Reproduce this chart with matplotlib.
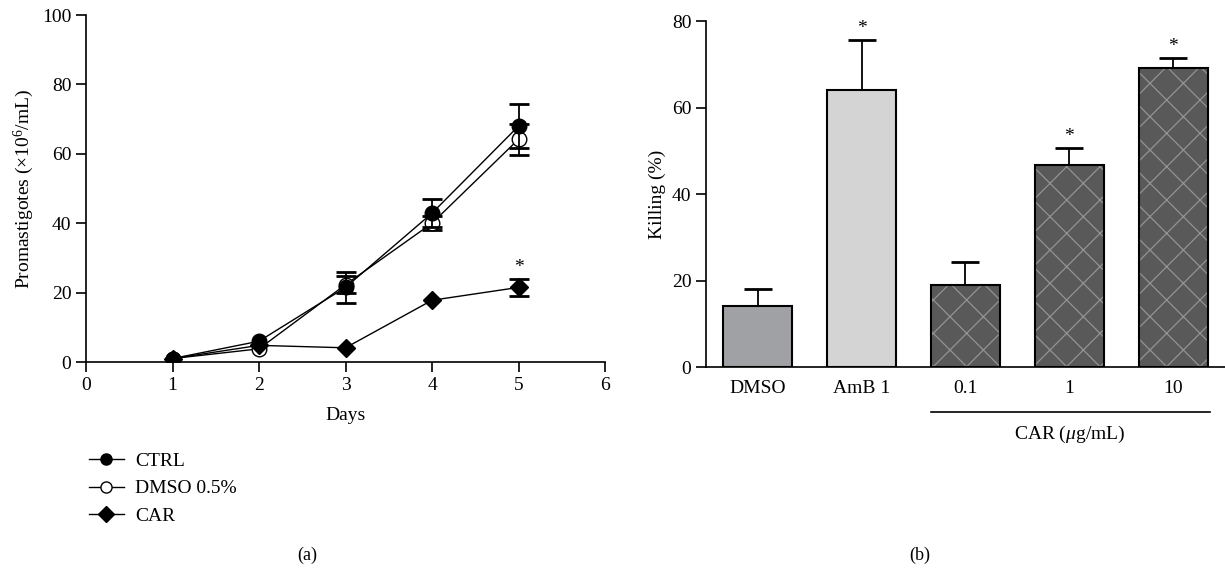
import matplotlib
matplotlib.use("Agg")
import matplotlib.pyplot as plt
from matplotlib.lines import Line2D
import numpy as np

plt.rcParams['font.family'] = ['Liberation Serif', 'DejaVu Serif']
plt.rcParams['mathtext.fontset'] = 'custom'
plt.rcParams['mathtext.rm'] = 'Liberation Serif'
plt.rcParams['mathtext.it'] = 'Liberation Serif:italic'
plt.rcParams['hatch.linewidth'] = 0.9

# (a) growth curves
days = [1, 2, 3, 4, 5]
ctrl = [1.0, 6.0, 21.5, 42.9, 68.0]
ctrl_err = [0, 0, 4.5, 4.0, 6.4]
dmso = [1.0, 3.8, 22.3, 40.0, 64.2]
dmso_err = [0, 0, 2.5, 2.0, 4.4]
car = [1.0, 4.8, 4.1, 17.8, 21.5]
car_err = [0, 0, 0, 0, 2.4]

# (b) killing
groups = ['DMSO', 'AmB 1', '0.1', '1', '10']
killing = [14.1, 64.0, 18.9, 46.7, 69.2]
killing_err = [3.9, 11.7, 5.4, 3.9, 2.2]
starred = [False, True, False, True, True]
bar_colors = ['#a0a1a4', '#d4d4d4', '#595959', '#595959', '#595959']
hatched = [False, False, True, True, True]

fig = plt.figure(figsize=(12.25, 5.74), dpi=100)
fs = 14


def series(ax, y, err, marker, ms, mfc, z):
    ax.plot(days, y, color='black', marker=marker, ms=ms, mfc=mfc,
            mec='black', lw=1.0, zorder=z)
    idx = [i for i in range(len(days)) if err[i] > 0]
    ax.errorbar([days[i] for i in idx], [y[i] for i in idx],
                yerr=[err[i] for i in idx], fmt='none', ecolor='black',
                elinewidth=1.3, capsize=7, capthick=2, zorder=z - 0.5)


# ---- panel (a)
ax1 = fig.add_axes([0.0702, 0.3693, 0.4237, 0.6045])
series(ax1, dmso, dmso_err, 'o', 10.5, 'white', 3)
series(ax1, ctrl, ctrl_err, 'o', 10.5, 'black', 4)
series(ax1, car, car_err, 'D', 9.5, 'black', 5)
ax1.annotate('*', (days[-1], car[-1] + car_err[-1]), xytext=(0, 2),
             textcoords='offset points', ha='center', va='bottom', fontsize=fs)
ax1.set_xlim(0, 6)
ax1.set_ylim(0, 100)
ax1.set_xticks(range(0, 7))
ax1.set_yticks(range(0, 101, 20))
ax1.spines[['top', 'right']].set_visible(False)
ax1.tick_params(direction='out', length=7, width=1.2, labelsize=fs)
for s in ['left', 'bottom']:
    ax1.spines[s].set_linewidth(1.2)
ax1.set_xlabel('Days', fontsize=fs, labelpad=10)
ax1.set_ylabel('Promastigotes (×10$^{6}$/mL)', fontsize=fs)

handles = [
    Line2D([], [], color='black', marker='o', ms=8, mfc='black', lw=1.0),
    Line2D([], [], color='black', marker='o', ms=8, mfc='white', lw=1.0),
    Line2D([], [], color='black', marker='D', ms=8, mfc='black', lw=1.0),
]
fig.legend(handles, ['CTRL', 'DMSO 0.5%', 'CAR'], loc='upper left',
           bbox_to_anchor=(0.066, 0.226), frameon=False, fontsize=fs,
           handlelength=1.8, labelspacing=0.52, handletextpad=0.6,
           borderaxespad=0)

# ---- panel (b)
ax2 = fig.add_axes([0.5763, 0.3606, 0.4237, 0.6028])
x = np.arange(len(groups))
for i in range(len(groups)):
    if hatched[i]:
        ax2.bar(x[i], killing[i], width=0.665, color=bar_colors[i],
                edgecolor='#939393', hatch='x', lw=0, zorder=2)
        ax2.bar(x[i], killing[i], width=0.665, fill=False,
                edgecolor='black', lw=1.5, zorder=3)
    else:
        ax2.bar(x[i], killing[i], width=0.665, color=bar_colors[i],
                edgecolor='black', lw=1.5, zorder=2)
ax2.errorbar(x, killing, yerr=[np.zeros(len(killing)), killing_err], fmt='none',
             ecolor='black', elinewidth=1.3, capsize=10, capthick=2, zorder=1)
for i in range(len(groups)):
    if starred[i]:
        ax2.annotate('*', (x[i], killing[i] + killing_err[i]), xytext=(0, 2),
                     textcoords='offset points', ha='center', va='bottom', fontsize=fs)
ax2.set_xlim(-0.5, 4.5)
ax2.set_ylim(0, 80)
ax2.set_yticks(range(0, 81, 20))
ax2.set_xticks(x)
ax2.set_xticklabels(groups)
ax2.spines[['top', 'right']].set_visible(False)
for s in ['left', 'bottom']:
    ax2.spines[s].set_linewidth(1.2)
ax2.tick_params(axis='y', direction='out', length=7, width=1.2, labelsize=fs)
ax2.tick_params(axis='x', length=0, labelsize=fs, pad=9)
ax2.set_ylabel('Killing (%)', fontsize=fs)
ax2.plot([2 - 0.333, 4.36], [-0.13, -0.13], color='black', lw=1.2,
         transform=ax2.get_xaxis_transform(), clip_on=False)
ax2.text(3.0, -0.165, 'CAR ($\\mu$g/mL)', transform=ax2.get_xaxis_transform(),
         ha='center', va='top', fontsize=fs)

fig.text(0.2506, 0.033, '(a)', ha='center', va='center', fontsize=fs - 1)
fig.text(0.751, 0.033, '(b)', ha='center', va='center', fontsize=fs - 1)

fig.savefig('out.png', dpi=100)
